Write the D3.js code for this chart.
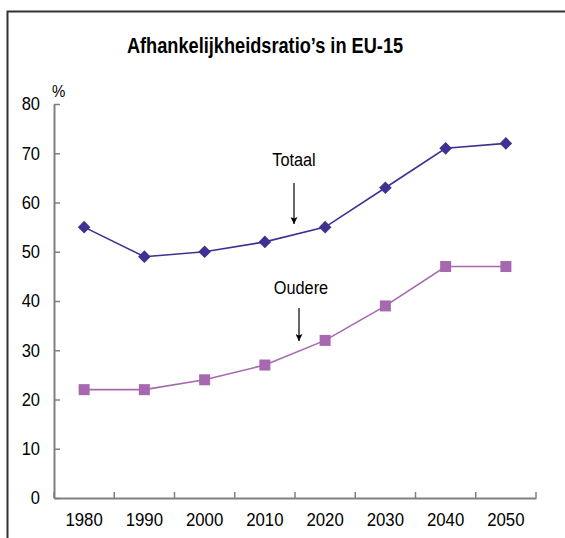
<!DOCTYPE html>
<html>
<head>
<meta charset="utf-8">
<script src="https://cdn.jsdelivr.net/npm/d3@7"></script>
<style>
  html, body { margin: 0; padding: 0; background: #fff; }
  svg { display: block; }
  text { font-family: "Liberation Sans", Arial, sans-serif; fill: #000; }
</style>
</head>
<body>
<svg id="chart" width="565" height="538"></svg>
<script>
const years = ["1980", "1990", "2000", "2010", "2020", "2030", "2040", "2050"];
const totaal = [55, 49, 50, 52, 55, 63, 71, 72];
const oudere = [22, 22, 24, 27, 32, 39, 47, 47];
const yTicks = [0, 10, 20, 30, 40, 50, 60, 70, 80];
const title = "Afhankelijkheidsratio’s in EU-15";
const unitLabel = "%";
const seriesNames = ["Totaal", "Oudere"];

const svg = d3.select("#chart");
const SY = 1.13; // vertical text stretch

// frame
svg.append("path")
  .attr("d", "M7.5,538 V11.5 H565")
  .attr("fill", "none").attr("stroke", "#333").attr("stroke-width", 2);

// title
svg.append("text")
  .attr("transform", `translate(265,53) scale(1,${SY + 0.05})`)
  .attr("text-anchor", "middle")
  .attr("font-size", 18.2).attr("font-weight", "bold")
  .text(title);

const x = d3.scaleBand().domain(years).range([54, 536]).padding(0);
const y = d3.scaleLinear().domain([0, 80]).range([498, 104]);

const axisColor = "#808080";

// y axis
const yAxis = svg.append("g").attr("transform", "translate(54,0)")
  .call(d3.axisLeft(y).tickValues(yTicks).tickSize(-6).tickSizeOuter(0).tickPadding(14));
yAxis.select(".domain").attr("stroke", axisColor).attr("stroke-width", 2);
yAxis.selectAll(".tick line").attr("stroke", axisColor).attr("stroke-width", 1.5);
yAxis.selectAll(".tick text")
  .attr("font-size", 16.5).attr("font-family", "Liberation Sans, Arial, sans-serif")
  .attr("fill", "#000")
  .attr("transform", `scale(1,${SY})`);

// % label
svg.append("text")
  .attr("transform", `translate(52,97) scale(1,${SY})`)
  .attr("font-size", 15)
  .text(unitLabel);

// x axis
const xAxis = svg.append("g").attr("transform", "translate(0,498)")
  .call(d3.axisBottom(x).tickSize(0).tickPadding(13));
xAxis.select(".domain").attr("stroke", axisColor).attr("stroke-width", 2);
xAxis.selectAll(".tick text")
  .attr("font-size", 16.8).attr("font-family", "Liberation Sans, Arial, sans-serif")
  .attr("fill", "#000")
  .attr("transform", `scale(1,${SY})`);
// boundary ticks
const bounds = years.map(d => x(d)).concat([x.range()[1]]);
svg.append("g").selectAll("line").data(bounds).join("line")
  .attr("x1", d => d).attr("x2", d => d)
  .attr("y1", 498).attr("y2", 492)
  .attr("stroke", axisColor).attr("stroke-width", 1.5);

const cx = d => x(d) + x.bandwidth() / 2;
const line = d3.line().x((d, i) => cx(years[i])).y(d => y(d));

const cTot = "#3e3192";
const cOud = "#a768b0";

// Totaal
svg.append("path").datum(totaal).attr("d", line)
  .attr("fill", "none").attr("stroke", cTot).attr("stroke-width", 1.6);
svg.append("g").selectAll("path").data(totaal).join("path")
  .attr("d", "M0,-6.3 L6.3,0 L0,6.3 L-6.3,0 Z")
  .attr("transform", (d, i) => `translate(${cx(years[i])},${y(d)})`)
  .attr("fill", cTot);

// Oudere
svg.append("path").datum(oudere).attr("d", line)
  .attr("fill", "none").attr("stroke", cOud).attr("stroke-width", 1.6);
svg.append("g").selectAll("rect").data(oudere).join("rect")
  .attr("x", (d, i) => cx(years[i]) - 5.5)
  .attr("y", d => y(d) - 5.5)
  .attr("width", 11).attr("height", 11)
  .attr("fill", cOud);

// annotations
svg.append("defs").append("marker")
  .attr("id", "arr").attr("viewBox", "0 0 10 10")
  .attr("refX", 10).attr("refY", 5)
  .attr("markerWidth", 9).attr("markerHeight", 7)
  .attr("markerUnits", "userSpaceOnUse")
  .attr("orient", "auto")
  .append("path").attr("d", "M0,0 L10,5 L0,10 L2,5 Z").attr("fill", "#000");

const ann = [
  { text: seriesNames[0], tx: 294, ty: 166, ax: 294, ay1: 183, ay2: 224 },
  { text: seriesNames[1], tx: 301, ty: 294, ax: 299, ay1: 308, ay2: 341 }
];
ann.forEach(a => {
  svg.append("text")
    .attr("transform", `translate(${a.tx},${a.ty}) scale(1,${SY})`)
    .attr("text-anchor", "middle")
    .attr("font-size", 16.3)
    .text(a.text);
  svg.append("line")
    .attr("x1", a.ax).attr("x2", a.ax)
    .attr("y1", a.ay1).attr("y2", a.ay2)
    .attr("stroke", "#000").attr("stroke-width", 1.2)
    .attr("marker-end", "url(#arr)");
});
</script>
</body>
</html>
